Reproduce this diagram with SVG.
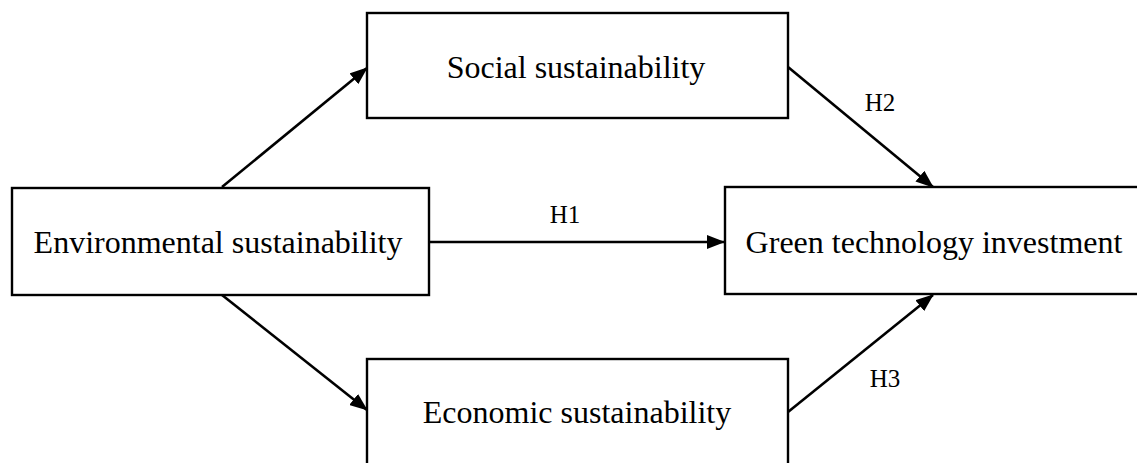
<svg xmlns="http://www.w3.org/2000/svg" width="1137" height="463" viewBox="0 0 1137 463">
  <style>
    .box { fill: #ffffff; stroke: #000000; stroke-width: 2.4; }
    .lbl { font-family: "Liberation Serif", "Times New Roman", serif; font-size: 32px; fill: #000000; text-anchor: middle; }
    .hyp { font-family: "Liberation Serif", "Times New Roman", serif; font-size: 25px; fill: #000000; text-anchor: middle; }
    .edge { fill: none; stroke: #000000; stroke-width: 2.6; marker-end: url(#arrow); }
  </style>
  <defs>
    <marker id="arrow" viewBox="0 0 18 14" refX="17" refY="7" markerWidth="18" markerHeight="14" markerUnits="userSpaceOnUse" orient="auto">
      <path d="M0,0 L18,7 L0,14 Z" fill="#000000"/>
    </marker>
  </defs>
  <rect width="1137" height="463" fill="#ffffff"/>
  <g id="connectors">
    <path class="edge" d="M222,187 L367,68"/>
    <path class="edge" d="M222,295 L367,410"/>
    <path class="edge" d="M430,242 L724,242"/>
    <path class="edge" d="M788,67 L933,187"/>
    <path class="edge" d="M788,412 L933,295"/>
    <text class="hyp" x="565" y="223">H1</text>
    <text class="hyp" x="880" y="111">H2</text>
    <text class="hyp" x="885" y="387">H3</text>
  </g>
  <g id="env">
    <rect class="box" x="12" y="188" width="417" height="107"/>
    <text class="lbl" x="218" y="253">Environmental sustainability</text>
  </g>
  <g id="social">
    <rect class="box" x="367" y="13" width="421" height="105"/>
    <text class="lbl" x="576" y="78">Social sustainability</text>
  </g>
  <g id="economic">
    <rect class="box" x="367" y="359" width="421" height="110"/>
    <text class="lbl" x="577" y="423">Economic sustainability</text>
  </g>
  <g id="green">
    <rect class="box" x="725" y="187" width="420" height="107"/>
    <text class="lbl" x="934" y="253">Green technology investment</text>
  </g>
</svg>
